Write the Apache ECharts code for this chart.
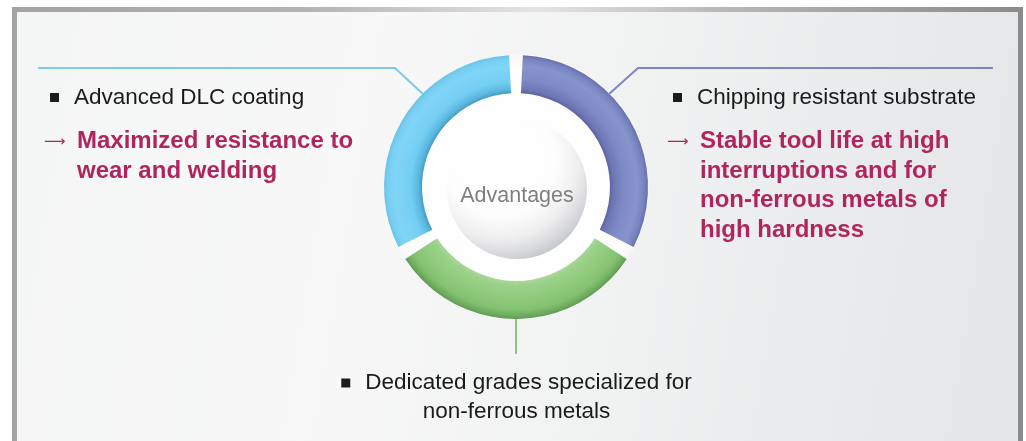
<!DOCTYPE html>
<html>
<head>
<meta charset="utf-8">
<script src="https://cdn.jsdelivr.net/npm/echarts@6/dist/echarts.min.js"></script>
<style>
html,body{margin:0;padding:0;background:#fff;}
#main{width:1026px;height:441px;}
</style>
</head>
<body>
<div id="main"></div>
<script>
// ---- data ----
const categories = ['Chipping resistant substrate', 'Dedicated grades specialized for\nnon-ferrous metals', 'Advanced DLC coating'];
const values = [1, 1, 1];
const benefits = ['Stable tool life at high\ninterruptions and for\nnon-ferrous metals of\nhigh hardness', '', 'Maximized resistance to\nwear and welding'];
const hubLabel = ['Advantages'];
const hubValue = [1];

// ---- geometry / style ----
const CX = 516, CY = 187, R_IN = 94, R_OUT = 132;
const FONT = 'Liberation Sans, Arial, Helvetica, sans-serif';
const MAGENTA = '#b0255d';
const lineColors = ['#7d86c4', '#8cc87c', '#7ccbea'];

function ringGrad(stops) {
  return { type: 'radial', x: CX, y: CY, r: R_OUT, global: true, colorStops: stops.map(s => ({ offset: s[0], color: s[1] })) };
}
const ringColors = [
  ringGrad([[0.70, '#555d99'], [0.74, '#6c76b4'], [0.82, '#7f8bc6'], [0.92, '#8793cb'], [0.97, '#7884bf'], [1, '#6570ad']]),
  ringGrad([[0.70, '#acd99d'], [0.75, '#9bd189'], [0.85, '#8fca7b'], [0.93, '#84c171'], [0.98, '#6ca95d'], [1, '#5d9b52']]),
  ringGrad([[0.70, '#3e90b8'], [0.74, '#5ab6de'], [0.80, '#74cef3'], [0.92, '#80d5f6'], [0.97, '#78cff1'], [1, '#68c2e8']])
];

function formatLabel(i) {
  const title = categories[i];
  if (i === 1) {
    const lines = title.split('\n');
    return '{sq|}{sp15|}{tb|' + lines[0] + '}\n{tb|' + lines[1] + '}';
  }
  const ben = benefits[i].split('\n');
  let s = '{sp6|}{sq|}{sp15|}{t|' + title + '}';
  ben.forEach((l, k) => {
    s += '\n' + (k === 0 ? '{ar|⟶}' : '{ind|}') + '{m|' + l + '}';
  });
  return s;
}

const chart = echarts.init(document.getElementById('main'), null, { renderer: 'canvas' });

const ringData = categories.map((c, i) => ({
  name: c,
  value: values[i],
  itemStyle: { color: ringColors[i] },
  labelLine: { lineStyle: { color: lineColors[i], width: 2 } },
  label: { formatter: formatLabel(i) }
}));

function ang(deg) { return deg * Math.PI / 180; }

chart.setOption({
  animation: false,
  backgroundColor: '#ffffff',
  graphic: {
    elements: [
      {
        type: 'rect', z: 0, silent: true,
        shape: { x: 14.5, y: 9.5, width: 1006, height: 480 },
        style: {
          fill: { type: 'linear', x: 0, y: 0, x2: 1, y2: 0.35, colorStops: [
            { offset: 0, color: '#f4f5f5' }, { offset: 0.35, color: '#f8f8f8' }, { offset: 0.6, color: '#f1f2f2' }, { offset: 1, color: '#e5e6e8' }] },
          stroke: { type: 'linear', x: 0, y: 0, x2: 1, y2: 0, colorStops: [
            { offset: 0, color: '#a3a3a3' }, { offset: 0.3, color: '#b5b5b5' }, { offset: 0.52, color: '#e4e4e4' }, { offset: 0.7, color: '#b8b8b8' }, { offset: 1, color: '#8a8a8a' }] },
          lineWidth: 5
        }
      },
      {
        type: 'circle', z: 1, silent: true,
        shape: { cx: CX, cy: CY, r: R_OUT + 1 },
        style: { fill: { type: 'radial', x: 0.5, y: 0.5, r: 0.5, colorStops: [
          { offset: 0, color: '#ffffff' }, { offset: 0.9, color: '#fdfdfd' }, { offset: 1, color: 'rgba(250,250,250,0.6)' }] } }
      }
    ]
  },
  series: [
    {
      type: 'pie',
      name: 'hub',
      silent: true,
      z: 3,
      center: [CX + 1, CY + 2],
      radius: [0, 70],
      emphasis: { disabled: true },
      itemStyle: {
        color: { type: 'radial', x: 0.38, y: 0.3, r: 0.8, colorStops: [
          { offset: 0, color: '#ffffff' }, { offset: 0.5, color: '#fdfdfd' }, { offset: 0.7, color: '#eeeeef' },
          { offset: 0.85, color: '#d4d5d8' }, { offset: 0.95, color: '#bec0c3' }, { offset: 1, color: '#b2b4b7' }] }
      },
      label: {
        show: true, position: 'center', formatter: '{a|{b}}',
        rich: { a: { color: '#7f7f7f', fontSize: 21.5, fontFamily: FONT, padding: [14, 0, 0, 0] } }
      },
      labelLine: { show: false },
      data: hubLabel.map((n, i) => ({ name: n, value: hubValue[i] }))
    },
    {
      type: 'pie',
      name: 'advantages',
      silent: true,
      z: 4,
      center: [CX, CY],
      radius: [R_IN, R_OUT],
      startAngle: 90,
      clockwise: true,
      padAngle: 6,
      avoidLabelOverlap: false,
      emphasis: { disabled: true },
      label: {
        show: true,
        fontFamily: FONT,
        rich: {
          sq: { width: 9, height: 9, backgroundColor: '#1c1c1c' },
          sp6: { width: 6 },
          sp15: { width: 15 },
          t: { fontSize: 22.5, color: '#1a1a1a', fontFamily: FONT, lineHeight: 59 },
          tb: { fontSize: 22.5, color: '#1a1a1a', fontFamily: FONT, lineHeight: 29 },
          ar: { width: 33, fontSize: 15, color: MAGENTA, fontFamily: 'DejaVu Sans', lineHeight: 29.5 },
          ind: { width: 33, lineHeight: 29.5 },
          m: { fontSize: 24, fontWeight: 'bold', color: MAGENTA, fontFamily: FONT, lineHeight: 29.5 }
        }
      },
      labelLine: { show: true, length: 20, length2: 20 },
      labelLayout: function (p) {
        const i = p.dataIndex;
        if (i === 0) {
          const a = ang(45);
          const p0 = [CX + R_OUT * Math.cos(a), CY - R_OUT * Math.sin(a)];
          return { x: 667, y: 68, align: 'left', verticalAlign: 'top',
            labelLinePoints: [p0, [638, 68], [993, 68]] };
        } else if (i === 2) {
          const a = ang(135);
          const p0 = [CX + R_OUT * Math.cos(a), CY - R_OUT * Math.sin(a)];
          return { x: 44, y: 68, align: 'left', verticalAlign: 'top',
            labelLinePoints: [p0, [395, 68], [38, 68]] };
        }
        return { x: 516.5, y: 368.5, align: 'center', verticalAlign: 'top',
          labelLinePoints: [[CX, CY + R_OUT - 12], [CX, 330], [CX, 354]] };
      },
      data: ringData
    }
  ]
});
</script>
</body>
</html>
